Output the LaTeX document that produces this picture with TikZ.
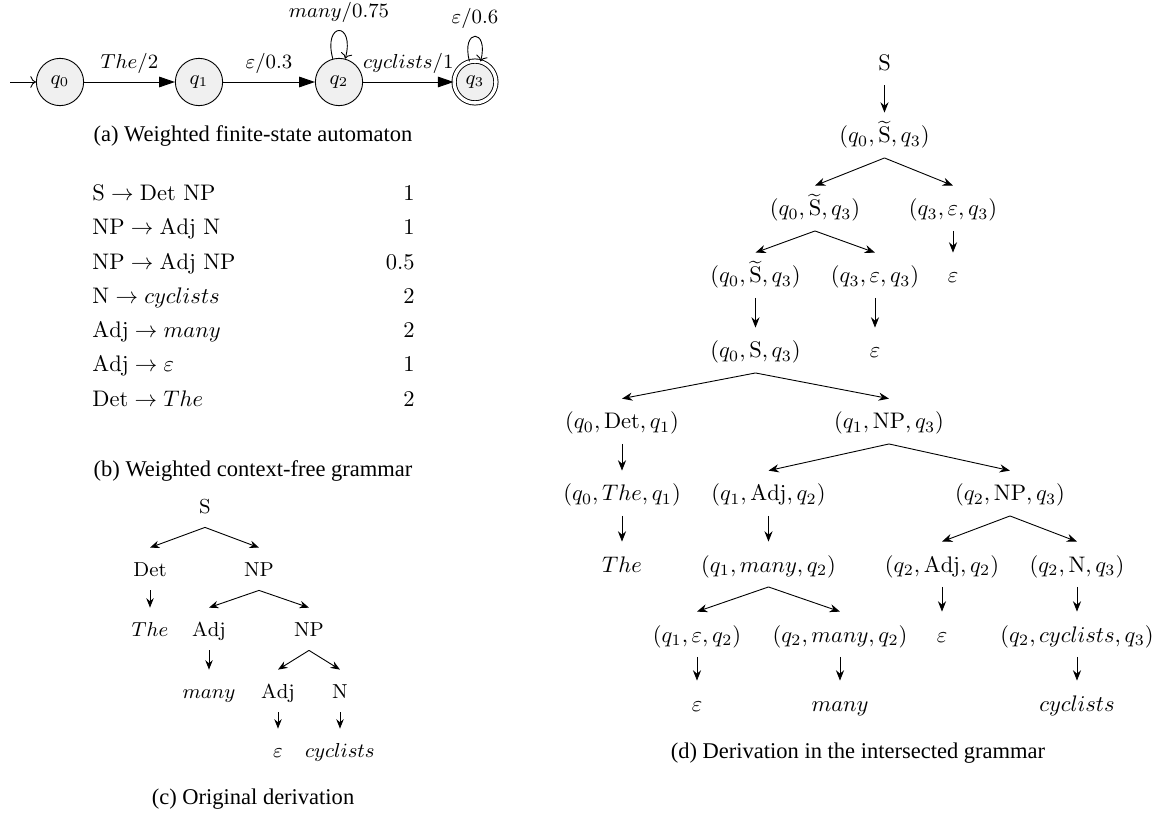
\documentclass[tikz,border=0pt]{standalone}
\usepackage[no-math]{fontspec}
\newfontfamily\capfont{Liberation Serif}
\usetikzlibrary{arrows.meta}
\newcommand{\autsz}{\fontsize{8.7}{10}\selectfont}
\newcommand{\trsz}{\fontsize{8.6}{10}\selectfont}
\begin{document}
\begin{tikzpicture}[x=0.4444pt,y=-0.4444pt,
  st/.style={circle,draw,fill=gray!12,minimum size=21pt,inner sep=0pt,font=\autsz},
  acc/.style={st,double,double distance=1.5pt,minimum size=18.6pt},
  ed/.style={-{Triangle[length=7pt,width=4.7pt]}},
  alab/.style={font=\autsz},
  tn/.style={anchor=base,inner sep=0pt,text height=13.3pt,text depth=6.45pt},
  tc/.style={anchor=base,inner sep=0pt,text height=12.4pt,text depth=6.2pt,font=\trsz},
  ta/.style={-{Stealth[length=4.6pt,width=3.6pt]}},
  tca/.style={-{Stealth[length=4.2pt,width=3.3pt]}},
  gl/.style={anchor=base west,inner sep=0pt},
  gr/.style={anchor=base east,inner sep=0pt},
  captxt/.style={anchor=base,inner sep=0pt,font=\capfont\fontsize{10}{12}\selectfont}]
\useasboundingbox (0,0) rectangle (1164,819);

% (a) automaton
\node[st] (q0) at (60,82) {$q_0$};
\node[st] (q1) at (199,82) {$q_1$};
\node[st] (q2) at (339,82) {$q_2$};
\node[acc] (q3) at (475,82) {$q_3$};
\coordinate (ini) at (10,82);
\draw[->] (ini) -- (q0);
\draw[ed] (q0) -- node[above,alab] {$The/2$} (q1);
\draw[ed] (q1) -- node[above,alab] {$\varepsilon/0.3$} (q2);
\draw[ed] (q2) -- node[above,alab] {$cyclists/1$} (q3);
\draw[->] (q2) to[loop above] node[above,alab] {$many/0.75$} (q2);
\draw[->] (q3) to[loop above] node[above,alab] {$\varepsilon/0.6$} (q3);
\node[captxt] (capa) at (253,142) {(a) Weighted finite-state automaton};

% (b) grammar
\node[gl] (g1) at (92,200.5) {$\mathrm{S}\rightarrow\mathrm{Det\ NP}$};
\node[gl] (g2) at (92,234.8) {$\mathrm{NP}\rightarrow\mathrm{Adj\ N}$};
\node[gl] (g3) at (92,269.1) {$\mathrm{NP}\rightarrow\mathrm{Adj\ NP}$};
\node[gl] (g4) at (92,303.4) {$\mathrm{N}\rightarrow cyclists$};
\node[gl] (g5) at (92,337.7) {$\mathrm{Adj}\rightarrow many$};
\node[gl] (g6) at (92,372) {$\mathrm{Adj}\rightarrow\varepsilon$};
\node[gl] (g7) at (92,406.3) {$\mathrm{Det}\rightarrow The$};
\node[gr] (w1) at (415,200.5) {$1$};
\node[gr] (w2) at (415,234.8) {$1$};
\node[gr] (w3) at (415,269.1) {$0.5$};
\node[gr] (w4) at (415,303.4) {$2$};
\node[gr] (w5) at (415,337.7) {$2$};
\node[gr] (w6) at (415,372) {$1$};
\node[gr] (w7) at (415,406.3) {$2$};
\node[captxt] (capb) at (253,477) {(b) Weighted context-free grammar};

% (c) original derivation
\node[tc] (c0) at (205,513) {$\mathrm{S}$};
\node[tc] (c1) at (150,576) {$\mathrm{Det}$};
\node[tc] (c2) at (259,576) {$\mathrm{NP}$};
\node[tc] (c3) at (150,636) {$The$};
\node[tc] (c4) at (209,636) {$\mathrm{Adj}$};
\node[tc] (c5) at (309,636) {$\mathrm{NP}$};
\node[tc] (c6) at (209,698) {$many$};
\node[tc] (c7) at (278,698) {$\mathrm{Adj}$};
\node[tc] (c8) at (340,698) {$\mathrm{N}$};
\node[tc] (c9) at (278,757) {$\varepsilon$};
\node[tc] (c10) at (340,757) {$cyclists$};
\draw[tca] (c0.south) -- (c1.north);
\draw[tca] (c0.south) -- (c2.north);
\draw[tca] (c1.south) -- (c3.north);
\draw[tca] (c2.south) -- (c4.north);
\draw[tca] (c2.south) -- (c5.north);
\draw[tca] (c4.south) -- (c6.north);
\draw[tca] (c5.south) -- (c7.north);
\draw[tca] (c5.south) -- (c8.north);
\draw[tca] (c7.south) -- (c9.north);
\draw[tca] (c8.south) -- (c10.north);
\node[captxt] (capc) at (253,804) {(c) Original derivation};

% (d) derivation in intersected grammar
\node[tn] (d0) at (884.5,70.5) {$\mathrm{S}$};
\node[tn] (d1) at (884.5,143) {$(q_0,\widetilde{\mathrm{S}},q_3)$};
\node[tn] (d2a) at (815,216) {$(q_0,\widetilde{\mathrm{S}},q_3)$};
\node[tn] (d2b) at (953,216) {$(q_3,\varepsilon,q_3)$};
\node[tn] (d3a) at (755.5,283) {$(q_0,\widetilde{\mathrm{S}},q_3)$};
\node[tn] (d3b) at (875,283) {$(q_3,\varepsilon,q_3)$};
\node[tn] (d3c) at (953,283) {$\varepsilon$};
\node[tn] (d4a) at (755.5,358) {$(q_0,\mathrm{S},q_3)$};
\node[tn] (d4b) at (875,358) {$\varepsilon$};
\node[tn] (d5a) at (622,429) {$(q_0,\mathrm{Det},q_1)$};
\node[tn] (d5b) at (889,429) {$(q_1,\mathrm{NP},q_3)$};
\node[tn] (d6a) at (622,501) {$(q_0,The,q_1)$};
\node[tn] (d6b) at (768.5,501) {$(q_1,\mathrm{Adj},q_2)$};
\node[tn] (d6c) at (1010,501) {$(q_2,\mathrm{NP},q_3)$};
\node[tn] (d7a) at (622,572) {$The$};
\node[tn] (d7b) at (768.5,572) {$(q_1,many,q_2)$};
\node[tn] (d7c) at (942,572) {$(q_2,\mathrm{Adj},q_2)$};
\node[tn] (d7d) at (1077,572) {$(q_2,\mathrm{N},q_3)$};
\node[tn] (d8a) at (697,642) {$(q_1,\varepsilon,q_2)$};
\node[tn] (d8b) at (840,642) {$(q_2,many,q_2)$};
\node[tn] (d8c) at (942,642) {$\varepsilon$};
\node[tn] (d8d) at (1077,642) {$(q_2,cyclists,q_3)$};
\node[tn] (d9a) at (697,711) {$\varepsilon$};
\node[tn] (d9b) at (840,711) {$many$};
\node[tn] (d9c) at (1077,711) {$cyclists$};
\draw[ta] (d0.south) -- (d1.north);
\draw[ta] (d1.south) -- (d2a.north);
\draw[ta] (d1.south) -- (d2b.north);
\draw[ta] (d2a.south) -- (d3a.north);
\draw[ta] (d2a.south) -- (d3b.north);
\draw[ta] (d2b.south) -- (d3c.north);
\draw[ta] (d3a.south) -- (d4a.north);
\draw[ta] (d3b.south) -- (d4b.north);
\draw[ta] (d4a.south) -- (d5a.north);
\draw[ta] (d4a.south) -- (d5b.north);
\draw[ta] (d5a.south) -- (d6a.north);
\draw[ta] (d5b.south) -- (d6b.north);
\draw[ta] (d5b.south) -- (d6c.north);
\draw[ta] (d6a.south) -- (d7a.north);
\draw[ta] (d6b.south) -- (d7b.north);
\draw[ta] (d6c.south) -- (d7c.north);
\draw[ta] (d6c.south) -- (d7d.north);
\draw[ta] (d7b.south) -- (d8a.north);
\draw[ta] (d7b.south) -- (d8b.north);
\draw[ta] (d7c.south) -- (d8c.north);
\draw[ta] (d7d.south) -- (d8d.north);
\draw[ta] (d8a.south) -- (d9a.north);
\draw[ta] (d8b.south) -- (d9b.north);
\draw[ta] (d8d.south) -- (d9c.north);
\node[captxt] (capd) at (858,759) {(d) Derivation in the intersected grammar};
\end{tikzpicture}
\end{document}
